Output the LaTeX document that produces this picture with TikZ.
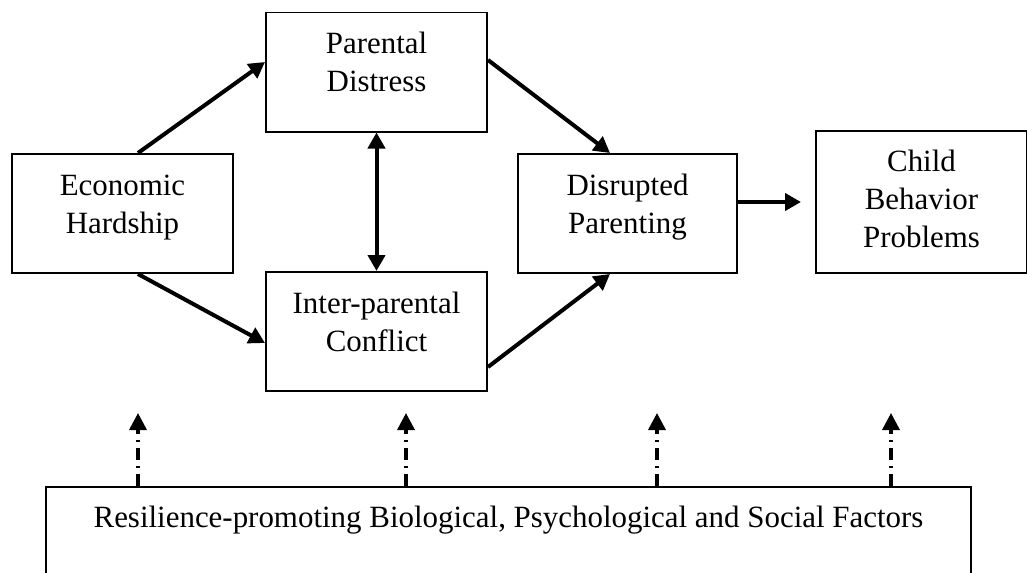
\documentclass[tikz,border=0pt]{standalone}
\usepackage{fontspec}
\setmainfont{Liberation Serif}
\usetikzlibrary{arrows.meta, positioning}

\begin{document}
\begin{tikzpicture}[
        node distance=0.62cm,
        box/.style={rectangle, draw, line width=0.04cm, fill=white, minimum width=4.42cm, minimum height=2.38cm, align=center, font=\fontsize{17.6}{21.45}\selectfont, text height=1.2cm, text depth=0.42cm},
        arrow/.style={-{Triangle[length=0.32cm, width=0.34cm]}, line width=0.08cm},
        twoway/.style={{Triangle[length=0.32cm, width=0.34cm]}-{Triangle[length=0.32cm, width=0.34cm]}, line width=0.08cm},
        modarrow/.style={-{Triangle[length=0.34cm, width=0.34cm]}, line width=0.07cm, dash pattern=on 0.24cm off 0.12cm on 0.04cm off 0.12cm}
    ]
        \useasboundingbox (0,0) rectangle (20.54,-11.46);

        \node[box] (eco) at (2.45,-4.27) {Economic\\Hardship};
        \node[box, right=of eco, yshift=2.83cm] (par) {Parental\\Distress};
        \node[box, right=of eco, yshift=-2.36cm] (int) {Inter-parental\\Conflict};
        \node[box, minimum width=4.38cm, right=5.66cm of eco] (dis) {Disrupted\\Parenting};
        \node[box, minimum width=4.22cm, minimum height=2.84cm, text height=2cm, text depth=0.2cm, right=1.54cm of dis, yshift=0.23cm] (chd) {Child\\Behavior\\Problems};
        \node[box, minimum width=18.5cm, minimum height=2cm, text height=0.4cm, text depth=0.8cm, below=1.88cm of int, xshift=2.64cm] (res) {Resilience-promoting Biological, Psychological and Social Factors};

        \draw[arrow] ([xshift=0.31cm]eco.north) -- ([yshift=0.2cm]par.west);
        \draw[arrow] ([xshift=0.31cm]eco.south) -- ([yshift=-0.23cm]int.west);
        \draw[arrow] ([yshift=0.24cm]par.east) -- ([xshift=-0.35cm]dis.north);
        \draw[arrow] ([yshift=-0.71cm]int.east) -- ([xshift=-0.35cm]dis.south);
        \draw[twoway] (par) -- (int);
        \draw[arrow, shorten >=0.28cm] (dis.east |- chd.west) -- (chd.west);

        % moderating influences
        \foreach \x [count=\i] in {2.76, 8.12, 13.14, 17.82}
            \coordinate (m\i) at (\x,-8.26);
        \foreach \i in {1,...,4}
            \draw[modarrow] (res.north -| m\i) -- (m\i);
    \end{tikzpicture}
\end{document}
